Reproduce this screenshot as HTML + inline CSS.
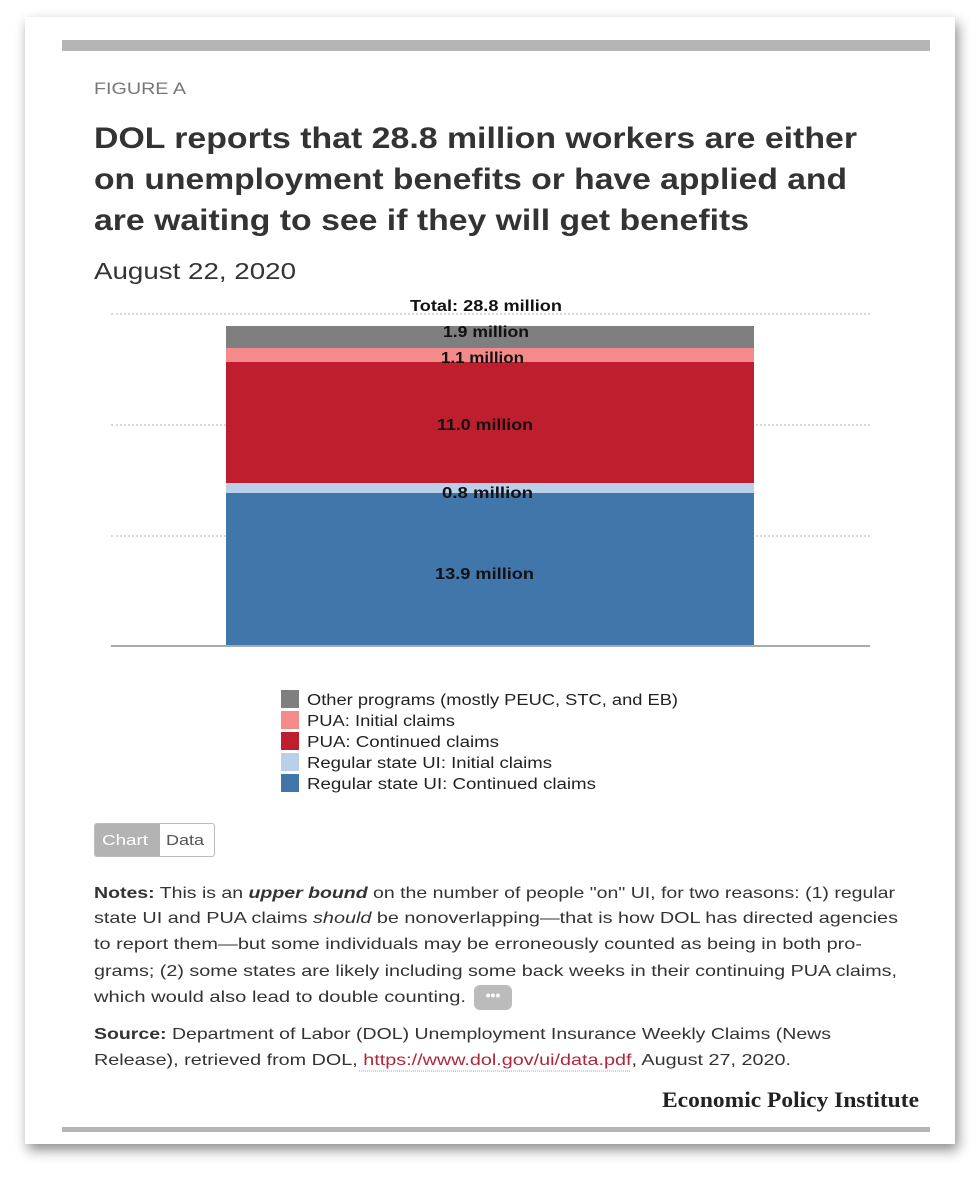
<!DOCTYPE html>
<html><head><meta charset="utf-8"><style>
body{margin:0;width:980px;height:1177px;background:#fff;font-family:"Liberation Sans",sans-serif;position:relative;overflow:hidden}
.card{position:absolute;left:25px;top:17px;width:930px;height:1127px;background:#fff;box-shadow:3px 6px 12px rgba(0,0,0,.45)}
.a{position:absolute}
.bar{position:absolute;left:226px;width:528px}
.grid{position:absolute;left:111px;width:759px;border-top:2px dotted #d8d8d8}
.sq{position:absolute;left:281px;width:18px;height:18px}
svg{position:absolute;left:0;top:0}
</style></head><body>
<div class="card"></div>
<div class="a" style="left:62px;top:40px;width:868px;height:11px;background:#b5b5b5"></div>
<div class="grid" style="top:313px"></div>
<div class="grid" style="top:424px"></div>
<div class="grid" style="top:535px"></div>
<div class="bar" style="top:326px;height:22px;background:#7f7f7f"></div>
<div class="bar" style="top:348px;height:14px;background:#f48a8a"></div>
<div class="bar" style="top:362px;height:121px;background:#be1e2d"></div>
<div class="bar" style="top:483px;height:10px;background:#b9cfea"></div>
<div class="bar" style="top:493px;height:153px;background:#4176ab"></div>
<div class="a" style="left:111px;top:645px;width:759px;height:2px;background:#aaa"></div>
<div class="sq" style="top:690px;background:#7f7f7f"></div>
<div class="sq" style="top:711px;background:#f48a8a"></div>
<div class="sq" style="top:732px;background:#be1e2d"></div>
<div class="sq" style="top:753px;background:#b9cfea"></div>
<div class="sq" style="top:774px;background:#4176ab"></div>
<div class="a" style="left:94px;top:823px;width:119px;height:32px;border:1px solid #bbb;border-radius:3px;overflow:hidden">
<div class="a" style="left:0;top:0;width:65px;height:32px;background:#b3b3b3"></div></div>
<div class="a" style="left:474px;top:985px;width:38px;height:25px;background:#bbb;border-radius:6px"></div>
<div class="a" style="left:62px;top:1127px;width:868px;height:5px;background:#b5b5b5"></div>
<svg width="980" height="1177" xmlns="http://www.w3.org/2000/svg" font-family="Liberation Sans, sans-serif">
<text x="94" y="94" font-size="17" fill="#777" textLength="92" lengthAdjust="spacingAndGlyphs">FIGURE A</text>
<g font-size="30" font-weight="bold" fill="#333">
<text x="94" y="148" textLength="763" lengthAdjust="spacingAndGlyphs">DOL reports that 28.8 million workers are either</text>
<text x="94" y="189" textLength="753" lengthAdjust="spacingAndGlyphs">on unemployment benefits or have applied and</text>
<text x="94" y="230" textLength="655" lengthAdjust="spacingAndGlyphs">are waiting to see if they will get benefits</text>
</g>
<text x="94" y="279" font-size="23" fill="#333" textLength="202" lengthAdjust="spacingAndGlyphs">August 22, 2020</text>
<g font-size="15.5" font-weight="bold" fill="#111">
<text x="410" y="311" textLength="152" lengthAdjust="spacingAndGlyphs">Total: 28.8 million</text>
<text x="443" y="337" textLength="86" lengthAdjust="spacingAndGlyphs">1.9 million</text>
<text x="441" y="363" textLength="83" lengthAdjust="spacingAndGlyphs">1.1 million</text>
<text x="437" y="430" textLength="96" lengthAdjust="spacingAndGlyphs">11.0 million</text>
<text x="442" y="498" textLength="91" lengthAdjust="spacingAndGlyphs">0.8 million</text>
<text x="435" y="579" textLength="99" lengthAdjust="spacingAndGlyphs">13.9 million</text>
</g>
<g font-size="15.5" fill="#222">
<text x="307" y="705" textLength="371" lengthAdjust="spacingAndGlyphs">Other programs (mostly PEUC, STC, and EB)</text>
<text x="307" y="726" textLength="148" lengthAdjust="spacingAndGlyphs">PUA: Initial claims</text>
<text x="307" y="747" textLength="192" lengthAdjust="spacingAndGlyphs">PUA: Continued claims</text>
<text x="307" y="768" textLength="245" lengthAdjust="spacingAndGlyphs">Regular state UI: Initial claims</text>
<text x="307" y="789" textLength="289" lengthAdjust="spacingAndGlyphs">Regular state UI: Continued claims</text>
</g>
<text x="102" y="845" font-size="15" fill="#fff" textLength="46" lengthAdjust="spacingAndGlyphs">Chart</text>
<text x="166" y="845" font-size="15" fill="#555" textLength="38" lengthAdjust="spacingAndGlyphs">Data</text>
<g font-size="16" fill="#333">
<text x="94" y="898" textLength="801" lengthAdjust="spacingAndGlyphs"><tspan font-weight="bold">Notes:</tspan> This is an <tspan font-weight="bold" font-style="italic">upper bound</tspan> on the number of people "on" UI, for two reasons: (1) regular</text>
<text x="94" y="923" textLength="804" lengthAdjust="spacingAndGlyphs">state UI and PUA claims <tspan font-style="italic">should</tspan> be nonoverlapping—that is how DOL has directed agencies</text>
<text x="94" y="949" textLength="768" lengthAdjust="spacingAndGlyphs">to report them—but some individuals may be erroneously counted as being in both pro-</text>
<text x="94" y="976" textLength="803" lengthAdjust="spacingAndGlyphs">grams; (2) some states are likely including some back weeks in their continuing PUA claims,</text>
<text x="94" y="1002" textLength="372" lengthAdjust="spacingAndGlyphs">which would also lead to double counting.</text>
<text x="493" y="1000" font-size="14" fill="#fff" text-anchor="middle" font-weight="bold">•••</text>
<text x="94" y="1039" textLength="737" lengthAdjust="spacingAndGlyphs"><tspan font-weight="bold">Source:</tspan> Department of Labor (DOL) Unemployment Insurance Weekly Claims (News</text>
<text x="94" y="1065" textLength="697" lengthAdjust="spacingAndGlyphs">Release), retrieved from DOL, <tspan fill="#b0263a">https://www.dol.gov/ui/data.pdf</tspan>, August 27, 2020.</text>
</g>
<line x1="359" y1="1071" x2="631" y2="1071" stroke="#c98" stroke-width="1" stroke-dasharray="1,1"/>
<text x="662" y="1107" font-family="Liberation Serif, serif" font-weight="bold" font-size="22" fill="#222" textLength="257" lengthAdjust="spacingAndGlyphs">Economic Policy Institute</text>
</svg>
</body></html>
